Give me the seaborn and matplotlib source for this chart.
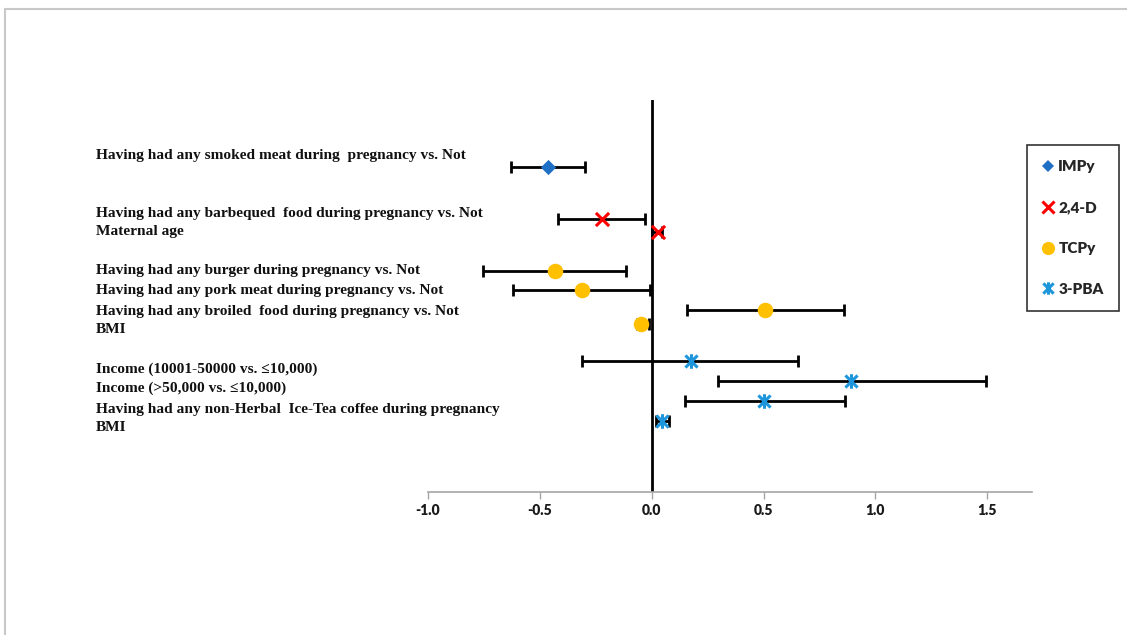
import numpy as np
import pandas as pd
import matplotlib
matplotlib.use("Agg")
import matplotlib.pyplot as plt
import seaborn as sns
from matplotlib.path import Path
from matplotlib.lines import Line2D
from matplotlib.transforms import blended_transform_factory

sns.set_theme(style="white")
plt.rcParams["font.family"] = ["DejaVu Sans"]

# ---- data -------------------------------------------------------------
labels = [
    "Having had any smoked meat during  pregnancy vs. Not",
    "Having had any barbequed  food during pregnancy vs. Not",
    "Maternal age",
    "Having had any burger during pregnancy vs. Not",
    "Having had any pork meat during pregnancy vs. Not",
    "Having had any broiled  food during pregnancy vs. Not",
    "BMI",
    "Income (10001-50000 vs. \u226410,000)",
    "Income (>50,000 vs. \u226410,000)",
    "Having had any non-Herbal  Ice-Tea coffee during pregnancy",
    "BMI",
]
label_y = [17.19, 14.23, 13.27, 11.28, 10.26, 9.23, 8.27, 6.28, 5.31, 4.23, 3.27]

series = ["IMPy", "2,4-D", "2,4-D", "TCPy", "TCPy", "TCPy", "TCPy",
          "3-PBA", "3-PBA", "3-PBA", "3-PBA"]
row_y = [16.58, 13.93, 13.27, 11.28, 10.31, 9.31, 8.57, 6.68, 5.66, 4.64, 3.62]
estimate = [-0.465, -0.224, 0.028, -0.432, -0.313, 0.505, -0.046, 0.174, 0.889, 0.503, 0.046]
ci_low = [-0.629, -0.420, 0.003, -0.754, -0.620, 0.157, -0.068, -0.310, 0.298, 0.147, 0.018]
ci_high = [-0.300, -0.031, 0.047, -0.117, -0.009, 0.860, -0.012, 0.655, 1.492, 0.864, 0.076]

series_order = ["IMPy", "2,4-D", "TCPy", "3-PBA"]
x_ticks = [-1.0, -0.5, 0.0, 0.5, 1.0, 1.5]

df = pd.DataFrame({"series": series, "y": row_y, "est": estimate,
                   "lo": ci_low, "hi": ci_high})

# ---- marker styles ----------------------------------------------------
star = Path([(-1, -1), (1, 1), (-1, 1), (1, -1), (0, -1.2), (0, 1.2)],
            [Path.MOVETO, Path.LINETO, Path.MOVETO, Path.LINETO,
             Path.MOVETO, Path.LINETO])
styles = {
    "IMPy":  dict(marker="D", color="#1F6FC5", s=60, lw=0, filled=True),
    "2,4-D": dict(marker="x", color="#FF0000", s=90, lw=2.2, filled=False),
    "TCPy":  dict(marker="o", color="#FFC000", s=125, lw=0, filled=True),
    "3-PBA": dict(marker=star, color="#1E96DC", s=110, lw=2.2, filled=False),
}

# ---- figure -----------------------------------------------------------
fig = plt.figure(figsize=(11.27, 6.35), dpi=100)
ax = fig.add_axes([0.3798, 0.2252, 0.536, 0.6173])
ax.set_xlim(-1.0, 1.7)
ax.set_ylim(0, 20)

ax.axvline(0, color="black", lw=2, zorder=1)

est = df["est"].to_numpy()
ax.errorbar(est, df["y"], xerr=[est - df["lo"].to_numpy(), df["hi"].to_numpy() - est],
            fmt="none", ecolor="black", elinewidth=2, capsize=4, capthick=2, zorder=2)

for name in series_order:
    st = styles[name]
    sub = df[df["series"] == name]
    if st["filled"]:
        sns.scatterplot(data=sub, x="est", y="y", marker=st["marker"], color=st["color"],
                        s=st["s"], linewidth=0, ax=ax, zorder=3, legend=False)
    else:
        sns.scatterplot(data=sub, x="est", y="y", marker=st["marker"], color=st["color"],
                        edgecolor=st["color"], s=st["s"], linewidth=st["lw"],
                        ax=ax, zorder=3, legend=False)

# category labels on the left
trans = blended_transform_factory(fig.transFigure, ax.transData)
for text, yy in zip(labels, label_y):
    ax.text(96 / 1127, yy, text, transform=trans, ha="left", va="center",
            family="Liberation Serif", fontweight="bold", fontsize=11.1,
            color="#111111", clip_on=False)

# axes styling
ax.set_xlabel("")
ax.set_ylabel("")
ax.set_yticks([])
ax.set_xticks(x_ticks)
ax.set_xticklabels([f"{t:.1f}" for t in x_ticks], fontfamily="Lato",
                   fontweight="heavy", fontsize=10, color="#1A1A1A")
ax.tick_params(axis="x", direction="out", length=5, width=1, color="#A6A6A6",
               bottom=True, pad=4)
for side in ["left", "right", "top"]:
    ax.spines[side].set_visible(False)
ax.spines["bottom"].set_color("#A6A6A6")
ax.spines["bottom"].set_linewidth(1.2)

# legend
handles = []
for name in series_order:
    st = styles[name]
    ms = np.sqrt(st["s"]) * 0.85
    h = Line2D([], [], linestyle="none", marker=st["marker"], color=st["color"],
               markersize=ms, markeredgewidth=st["lw"] if not st["filled"] else 0)
    handles.append(h)
leg = fig.legend(handles, series_order, loc="upper left",
                 bbox_to_anchor=(1027 / 1127, 1 - 145 / 635),
                 frameon=True, fancybox=False, edgecolor="black",
                 prop={"family": "Lato", "weight": "heavy", "size": 11},
                 labelspacing=1.82, handlelength=0.8, handletextpad=0.25,
                 borderpad=1.0, borderaxespad=0)
leg.get_frame().set_linewidth(1.2)

# outer frame lines
fig.add_artist(Line2D([5 / 1127, 1], [1 - 9 / 635] * 2, transform=fig.transFigure,
                      color="#C8C8C8", lw=1.5))
fig.add_artist(Line2D([5 / 1127] * 2, [0, 1 - 9 / 635], transform=fig.transFigure,
                      color="#C8C8C8", lw=1.5))

fig.savefig("out.png", dpi=100)
